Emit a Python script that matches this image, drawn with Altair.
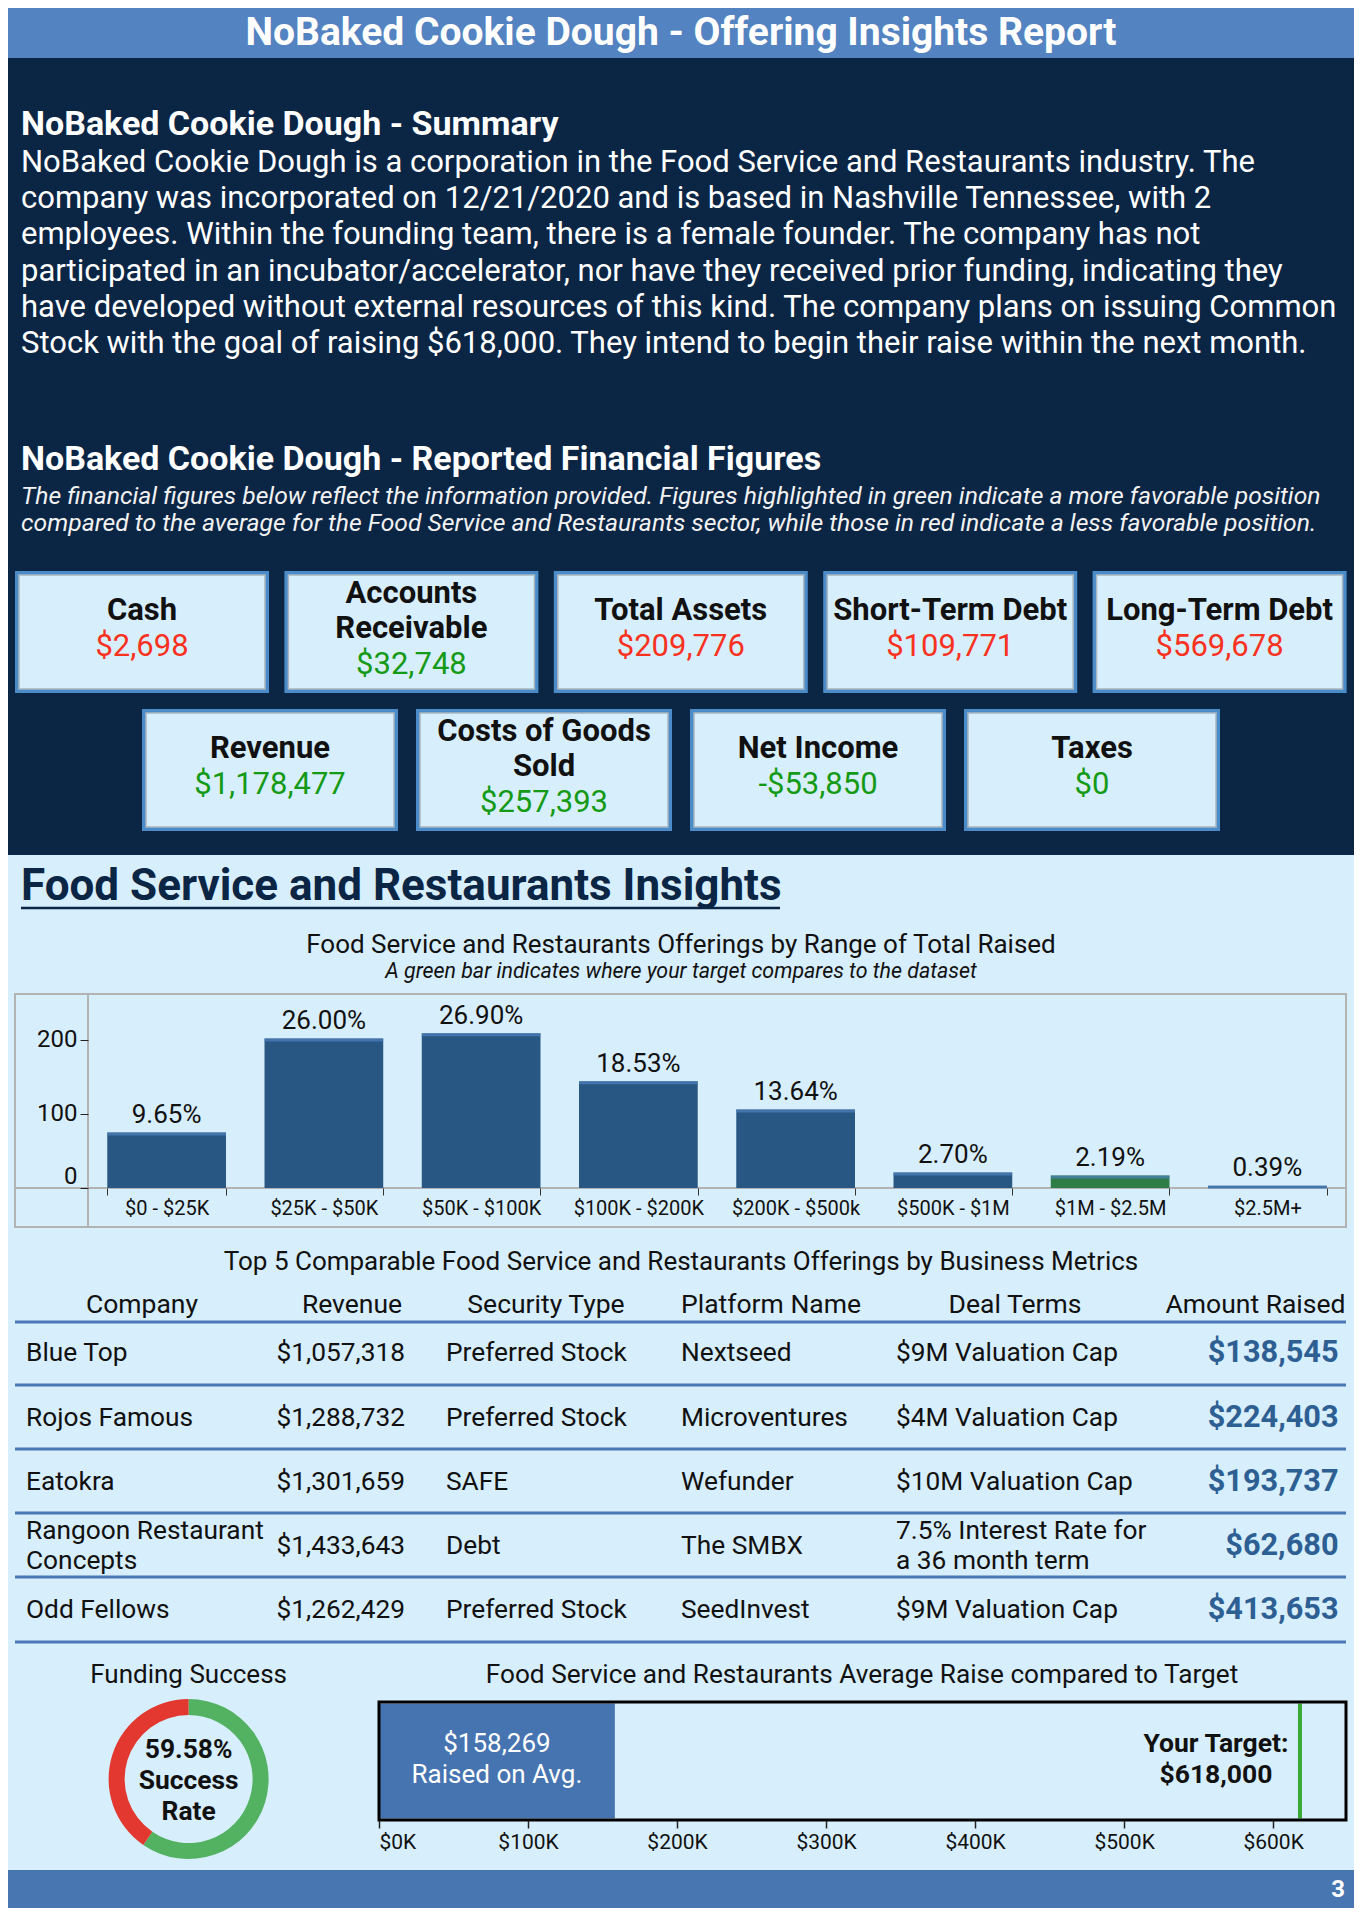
import altair as alt
import pandas as pd

# ---------------- data ----------------
report_title = "NoBaked Cookie Dough - Offering Insights Report"
summary_title = "NoBaked Cookie Dough - Summary"
summary_lines = [
    "NoBaked Cookie Dough is a corporation in the Food Service and Restaurants industry. The",
    "company was incorporated on 12/21/2020 and is based in Nashville Tennessee, with 2",
    "employees. Within the founding team, there is a female founder. The company has not",
    "participated in an incubator/accelerator, nor have they received prior funding, indicating they",
    "have developed without external resources of this kind. The company plans on issuing Common",
    "Stock with the goal of raising $618,000. They intend to begin their raise within the next month.",
]
fin_title = "NoBaked Cookie Dough - Reported Financial Figures"
fin_note = [
    "The financial figures below reflect the information provided. Figures highlighted in green indicate a more favorable position",
    "compared to the average for the Food Service and Restaurants sector, while those in red indicate a less favorable position.",
]
fin_labels = ["Cash", "Accounts\nReceivable", "Total Assets", "Short-Term Debt", "Long-Term Debt",
              "Revenue", "Costs of Goods\nSold", "Net Income", "Taxes"]
fin_values = ["$2,698", "$32,748", "$209,776", "$109,771", "$569,678",
              "$1,178,477", "$257,393", "-$53,850", "$0"]
fin_good = [False, True, False, False, False, True, True, True, True]

insights_title = "Food Service and Restaurants Insights"
range_title = "Food Service and Restaurants Offerings by Range of Total Raised"
range_subtitle = "A green bar indicates where your target compares to the dataset"
range_bins = ["$0 - $25K", "$25K - $50K", "$50K - $100K", "$100K - $200K",
              "$200K - $500k", "$500K - $1M", "$1M - $2.5M", "$2.5M+"]
range_counts = [75, 202, 209, 144, 106, 21, 17, 3]
target_bin = "$1M - $2.5M"

table_title = "Top 5 Comparable Food Service and Restaurants Offerings by Business Metrics"
table_headers = ["Company", "Revenue", "Security Type", "Platform Name", "Deal Terms", "Amount Raised"]
t_company = ["Blue Top", "Rojos Famous", "Eatokra", "Rangoon Restaurant\nConcepts", "Odd Fellows"]
t_revenue = ["$1,057,318", "$1,288,732", "$1,301,659", "$1,433,643", "$1,262,429"]
t_security = ["Preferred Stock", "Preferred Stock", "SAFE", "Debt", "Preferred Stock"]
t_platform = ["Nextseed", "Microventures", "Wefunder", "The SMBX", "SeedInvest"]
t_terms = ["$9M Valuation Cap", "$4M Valuation Cap", "$10M Valuation Cap",
           "7.5% Interest Rate for\na 36 month term", "$9M Valuation Cap"]
t_amount = ["$138,545", "$224,403", "$193,737", "$62,680", "$413,653"]

funding_title = "Funding Success"
success_rate = 59.58
avg_title = "Food Service and Restaurants Average Raise compared to Target"
avg_raise = 158269
target = 618000
page_number = "3"

# ---------------- style ----------------
W, H = 1346, 1900
FONT = "Roboto"
INK = "#111111"
NAVY = "#0B2545"
LIGHT = "#D7EEFC"
TOPBLUE = "#5383C0"
FOOTBLUE = "#4876B1"
BOXBORDER = "#4A8BC8"
RED = "#F8321E"
GREEN = "#159A15"
BARBLUE = "#285784"
BARGREEN = "#2E7D46"
CAP = "#4F81BD"
LINEBLUE = "#4A78B5"
AMOUNT = "#2D5F93"
DONUT_G = "#52B262"
DONUT_R = "#E2382F"

xs = alt.Scale(domain=[0, W], range=[0, W], nice=False, zero=False)
ys = alt.Scale(domain=[0, H], range=[0, H], nice=False, zero=False)

rects, lines, texts = [], [], []


def rect(x, x2, y, y2, fill, stroke="transparent", sw=0):
    rects.append(dict(x=x, x2=x2, y=y, y2=y2, fill=fill, stroke=stroke, sw=sw))


def line(x, x2, y, y2, color, sw):
    lines.append(dict(x=x, x2=x2, y=y, y2=y2, color=color, sw=sw))


def text(x, y, t, size, weight="normal", fstyle="normal", align="left", color=INK):
    texts.append(dict(x=x, y=y, t=t, size=size, weight=weight, fstyle=fstyle, align=align, color=color))


# sections
rect(0, W, 0, 50, TOPBLUE)
rect(0, W, 50, 847, NAVY)
rect(0, W, 847, 1862, LIGHT)
rect(0, W, 1862, 1900, FOOTBLUE)

text(673, 25, report_title, 39, "bold", align="center", color="white")
text(13, 117, summary_title, 34, "bold", color="white")
for i, s in enumerate(summary_lines):
    text(13, 155 + i * 36.2, s, 31, color="white")
text(13, 452, fin_title, 34, "bold", color="white")
for i, s in enumerate(fin_note):
    text(13, 489 + i * 27, s, 24.7, fstyle="italic", color="#F2F2F2")

# financial boxes
boxes = []
for i in range(5):
    boxes.append((7 + i * 269.4, 254, 563, 685))
row2_w, row2_step = 256, 274
row2_x0 = 673 - (3 * row2_step + row2_w) / 2
for i in range(4):
    boxes.append((row2_x0 + i * row2_step, row2_w, 701, 823))
for (bx0, bw, by0, by1), lab, val, good in zip(boxes, fin_labels, fin_values, fin_good):
    rect(bx0, bx0 + bw, by0, by1, BOXBORDER)
    rect(bx0 + 4, bx0 + bw - 4, by0 + 4, by1 - 4, LIGHT, "#A9B6C0", 1.5)
    parts = lab.split("\n") + [val]
    n = len(parts)
    cy = (by0 + by1) / 2 - 3
    cx = bx0 + bw / 2
    for j, p in enumerate(parts):
        yy = cy + (j - (n - 1) / 2) * 35.5
        if j == n - 1:
            text(cx, yy, p, 31, align="center", color=GREEN if good else RED)
        else:
            text(cx, yy, p, 31, "bold", align="center", color=INK)

# insights heading
text(13, 879, insights_title, 44, "bold", color=NAVY)
line(13, 772, 900, 900, NAVY, 2.5)
text(673, 937, range_title, 26, align="center")
text(673, 964, range_subtitle, 21.4, fstyle="italic", align="center")

# bar chart frame
rect(7, 1338, 986, 1219, "transparent", "#B3B3B3", 2)
line(80, 80, 986, 1219, "#B3B3B3", 2)
line(7, 1338, 1180, 1180, "#B3B3B3", 2)

# table
text(673, 1254, table_title, 26, align="center")
hx = [(134, "center"), (344, "center"), (538, "center"), (763, "center"), (1007, "center"), (1337.5, "right")]
for (x, a), h in zip(hx, table_headers):
    text(x, 1297, h, 26.5, align=a)
line(7, 1338, 1314, 1314, LINEBLUE, 3)
row_cy = [1345, 1410, 1474, 1538, 1602]
row_line = [1377, 1441, 1505, 1569, 1634]
for yl in row_line:
    line(7, 1338, yl, yl, LINEBLUE, 3)
cols = [(t_company, 18, "left", "normal", 26.3, INK), (t_revenue, 397, "right", "normal", 26.3, INK),
        (t_security, 438, "left", "normal", 26.3, INK), (t_platform, 673, "left", "normal", 26.3, INK),
        (t_terms, 888, "left", "normal", 26.3, INK), (t_amount, 1330.5, "right", "bold", 30.7, AMOUNT)]
for vals, x, a, wgt, sz, col in cols:
    for cy, v in zip(row_cy, vals):
        parts = v.split("\n")
        n = len(parts)
        for j, p in enumerate(parts):
            text(x, cy + (j - (n - 1) / 2) * 30, p, sz, wgt, align=a, color=col)

# bottom section
text(180.6, 1667, funding_title, 26, align="center")
rate_lines = [f"{success_rate:.2f}%", "Success", "Rate"]
for j, p in enumerate(rate_lines):
    text(180.6, 1742 + j * 31, p, 26.4, "bold", align="center")
text(854, 1667, avg_title, 26.2, align="center")
BUL_L, BUL_R, BUL_T, BUL_B = 371, 1338, 1694, 1812

# footer
text(1337, 1882, page_number, 24, "bold", align="right", color="white")

# ---------------- layers ----------------
rect_df = pd.DataFrame(rects)
line_df = pd.DataFrame(lines)
text_df = pd.DataFrame(texts)

PX = lambda f: alt.X(f + ":Q", scale=xs, axis=None)
PY = lambda f: alt.Y(f + ":Q", scale=ys, axis=None)

rect_layer = alt.Chart(rect_df).mark_rect().encode(
    x=PX("x"), x2="x2:Q", y=PY("y"), y2="y2:Q",
    fill=alt.Fill("fill:N", scale=None),
    stroke=alt.Stroke("stroke:N", scale=None),
    strokeWidth=alt.StrokeWidth("sw:Q", scale=None),
)
line_layer = alt.Chart(line_df).mark_rule().encode(
    x=PX("x"), x2="x2:Q", y=PY("y"), y2="y2:Q",
    color=alt.Color("color:N", scale=None),
    strokeWidth=alt.StrokeWidth("sw:Q", scale=None),
)
bg = alt.layer(rect_layer, line_layer)

text_layers = []
for (sz, wgt, fst, al), g in text_df.groupby(["size", "weight", "fstyle", "align"], sort=False):
    text_layers.append(
        alt.Chart(g.reset_index(drop=True)).mark_text(
            font=FONT, fontSize=float(sz), fontWeight=wgt, fontStyle=fst, align=al, baseline="middle"
        ).encode(x=PX("x"), y=PY("y"), text="t:N", color=alt.Color("color:N", scale=None))
    )
frame_outline = alt.Chart(pd.DataFrame([dict(x=BUL_L, x2=BUL_R, y=BUL_T, y2=BUL_B)])).mark_rect(
    fill=None, stroke="black", strokeWidth=3
).encode(x=PX("x"), x2="x2:Q", y=PY("y"), y2="y2:Q")
fg = alt.layer(frame_outline, *text_layers)

# range bar chart
bars_df = pd.DataFrame({"bin": range_bins, "count": range_counts})
P_IN, P_OUT = 0.245, 0.1225
X0, X1, Y0, YT = 80, 1338, 1180, 986
step = (X1 - X0) / (len(range_bins) - P_IN + 2 * P_OUT)
bar_px = step * (1 - P_IN)
bxe = alt.X("bin:N", sort=range_bins,
            scale=alt.Scale(range=[X0, X1], paddingInner=P_IN, paddingOuter=P_OUT),
            axis=alt.Axis(orient="bottom", offset=-(H - Y0), title=None, labelAngle=0, labelFont=FONT,
                          labelFontSize=20, labelColor=INK, tickBand="extent", tickSize=7,
                          tickColor="#333333", domain=False, labelPadding=3, grid=False, zindex=2))
bye = alt.Y("count:Q", scale=alt.Scale(domain=[0, 262], range=[Y0, YT], nice=False),
            axis=alt.Axis(orient="left", offset=-X0, values=[0, 100, 200], title=None, labelFont=FONT,
                          labelFontSize=24, labelColor=INK, tickSize=8, tickColor="#222222",
                          labelPadding=3, domain=False, grid=False, labelFlush=True, zindex=2))
bar_base = alt.Chart(bars_df).transform_calculate(
    col=f"datum.bin === '{target_bin}' ? '{BARGREEN}' : '{BARBLUE}'"
).transform_joinaggregate(total="sum(count)").transform_calculate(pct="datum.count / datum.total")
bar_layer = bar_base.mark_bar().encode(x=bxe, y=bye, color=alt.Color("col:N", scale=None))
cap_layer = bar_base.mark_tick(thickness=3, color=CAP, yOffset=1.5).encode(x=bxe, y=bye, size=alt.value(bar_px))
pct_layer = bar_base.mark_text(font=FONT, fontSize=26, baseline="bottom", dy=-4.5, color=INK).encode(
    x=bxe, y=bye, text=alt.Text("pct:Q", format=".2%"))
bars = alt.layer(bar_layer, cap_layer, pct_layer)

# bullet chart
dmax = target * 1.05
bul_df = pd.DataFrame({"start": [0], "avg": [avg_raise], "target": [target],
                       "mid": [avg_raise / 2]})
bsc = alt.Scale(domain=[0, dmax], range=[BUL_L, BUL_R], nice=False, zero=True)
baxis = alt.Axis(orient="bottom", offset=-(H - BUL_B), title=None, values=list(range(0, 600001, 100000)),
                 labelExpr="'$' + datum.value / 1000 + 'K'", labelFont=FONT, labelFontSize=21,
                 labelColor=INK, tickSize=8, tickWidth=1.5, tickColor="#222222", labelPadding=3,
                 domain=False, grid=False, labelFlush=True, zindex=2)
bul_bar = alt.Chart(bul_df).mark_rect(color="#4674B1").encode(
    x=alt.X("start:Q", scale=bsc, axis=baxis), x2="avg:Q",
    y=alt.value(BUL_T + 1.5), y2=alt.value(BUL_B - 1.5))
bul_rule = alt.Chart(bul_df).mark_rule(color="#3AAA35", strokeWidth=4).encode(
    x=alt.X("target:Q", scale=bsc, axis=baxis), y=alt.value(BUL_T + 1.5), y2=alt.value(BUL_B - 1.5))
avg_lines = [f"${avg_raise:,}", "Raised on Avg."]
tgt_lines = ["Your Target:", f"${target:,}"]
bul_text = []
for j, (a, b) in enumerate(zip(avg_lines, tgt_lines)):
    yy = 1736 + j * 31
    bul_text.append(alt.Chart(bul_df).mark_text(font=FONT, fontSize=26, color="white", baseline="middle",
                                                align="center", text=a).encode(
        x=alt.X("mid:Q", scale=bsc, axis=baxis), y=alt.value(yy)))
    bul_text.append(alt.Chart(bul_df).mark_text(font=FONT, fontSize=26.5, fontWeight="bold", color=INK,
                                                baseline="middle", align="center", dx=-84, text=b).encode(
        x=alt.X("target:Q", scale=bsc, axis=baxis), y=alt.value(yy)))
bullet = alt.layer(bul_bar, bul_rule, *bul_text)

# donut
donut_df = pd.DataFrame({"k": ["Success", "Other"], "v": [success_rate, 100 - success_rate],
                         "c": [DONUT_G, DONUT_R], "o": [0, 1]})
donut = alt.Chart(donut_df).mark_arc(innerRadius=64, outerRadius=80).encode(
    theta=alt.Theta("v:Q", stack=True), color=alt.Color("c:N", scale=None),
    order=alt.Order("o:Q"), x=alt.value(180.6), y=alt.value(1771))

chart = alt.layer(bg, bars, bullet, donut, fg).resolve_scale(
    x="independent", y="independent"
).properties(width=W, height=H, padding=0, background="white").configure_view(stroke=None).configure(font=FONT)

chart.save("out.html", embed_options={"renderer": "svg", "actions": False})
